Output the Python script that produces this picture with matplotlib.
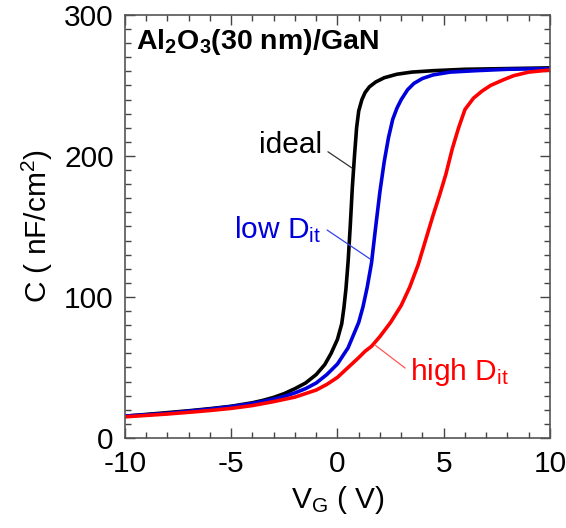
import numpy as np
import matplotlib
matplotlib.use('Agg')
import matplotlib.pyplot as plt
from matplotlib.ticker import MultipleLocator

plt.rcParams['font.family'] = 'Liberation Sans'
plt.rcParams['mathtext.fontset'] = 'custom'
plt.rcParams['mathtext.rm'] = 'Liberation Sans'
plt.rcParams['mathtext.it'] = 'Liberation Sans:italic'
plt.rcParams['mathtext.bf'] = 'Liberation Sans:bold'
plt.rcParams['axes.unicode_minus'] = False

# C-V curves (V, nF/cm2)
v_ideal = [-10, -9, -8, -7, -6, -5, -4, -3.5, -3, -2.5, -2, -1.5, -1, -0.6,
           -0.3, 0, 0.2, 0.3, 0.4, 0.5, 0.6, 0.7, 0.8, 0.9, 1.0, 1.15, 1.3,
           1.5, 1.8, 2.2, 2.8, 3.5, 4.5, 6, 8, 10]
c_ideal = [15.5, 16.7, 18, 19.3, 20.8, 22.5, 25, 26.7, 28.8, 31.5, 35, 39,
           45, 52, 60, 70, 81, 92, 106, 125, 150, 178, 200, 220, 232, 240,
           245, 249, 252.5, 255.5, 258, 259.5, 260.5, 261.5, 262, 262.5]

v_low = [-10, -9, -8, -7, -6, -5, -4, -3, -2.5, -2, -1.5, -1, -0.5, 0, 0.5,
         1.0, 1.2, 1.4, 1.6, 1.8, 2.0, 2.2, 2.4, 2.6, 2.8, 3.0, 3.3, 3.6,
         4.0, 4.5, 5.3, 6.5, 8, 10]
c_low = [15.5, 16.5, 17.5, 19, 20.5, 22.3, 24.5, 27.5, 29.5, 32, 35, 39, 45,
         52.5, 64, 82, 93, 107, 124, 150, 175, 196, 213, 226, 234, 240, 247,
         251.5, 255, 257.5, 259.5, 260.5, 261.5, 262]

v_high = [-10, -9, -8, -7, -6, -5, -4, -3, -2, -1, -0.5, 0, 0.5, 1.0, 1.3,
          1.6, 2.0, 2.5, 3.0, 3.4, 3.8, 4.2, 4.5, 4.8, 5.1, 5.4, 5.7, 6.0,
          6.4, 6.8, 7.2, 7.8, 8.3, 9, 10]
c_high = [15, 16, 17, 18.2, 19.5, 21, 23, 25.8, 29, 34, 38, 43, 50, 57,
          61.5, 65, 72, 82, 94, 107, 123, 143, 158, 172, 187, 205, 220, 233,
          241, 246, 250, 254, 257, 259.5, 261]

fig = plt.figure(figsize=(5.66, 5.28), dpi=100)
ax = fig.add_axes([0.2208, 0.1705, 0.7509, 0.8011])

ax.plot(v_ideal, c_ideal, color='black', lw=2.6)
ax.plot(v_low, c_low, color='#0000dd', lw=2.6)
ax.plot(v_high, c_high, color='#ff0000', lw=2.6)

ax.set_xlim(-10, 10)
ax.set_ylim(0, 300)
ax.xaxis.set_major_locator(MultipleLocator(5))
ax.xaxis.set_minor_locator(MultipleLocator(1))
ax.yaxis.set_major_locator(MultipleLocator(100))
ax.yaxis.set_minor_locator(MultipleLocator(10))
ax.tick_params(which='both', direction='in', top=True, right=True,
               color='#444444', labelsize=21.5)
ax.tick_params(which='major', length=7, width=1, pad=8)
ax.tick_params(axis='x', which='major', pad=9)
ax.tick_params(which='minor', length=4, width=1)
for s in ax.spines.values():
    s.set_color('#555555')
    s.set_linewidth(1.2)

ax.set_xlabel(r'V$_\mathregular{G}$ ( V)', fontsize=21.5, labelpad=4)
ax.set_ylabel(r'C ( nF/cm$^\mathregular{2}$)', fontsize=21.5, labelpad=7)

ax.text(0.027, 0.935, r'Al$_\mathbf{2}$O$_\mathbf{3}$(30 nm)/GaN',
        transform=ax.transAxes, fontsize=20.5, fontweight='bold',
        ha='left', va='center')

# labels with leader lines
ax.text(-0.7, 208, 'ideal', fontsize=21.5, color='black',
        ha='right', va='center')
ax.annotate('', xy=(0.68, 191.5), xytext=(-0.45, 203),
            arrowprops=dict(arrowstyle='-', color='#333333', lw=0.9,
                            shrinkA=0, shrinkB=0))
ax.text(-0.78, 147.5, r'low D$_\mathregular{it}$', fontsize=21.5,
        color='#0000dd', ha='right', va='center')
ax.annotate('', xy=(1.53, 127), xytext=(-0.49, 147.5),
            arrowprops=dict(arrowstyle='-', color='#3344ee', lw=0.9,
                            shrinkA=0, shrinkB=0))
ax.text(3.41, 47, r'high D$_\mathregular{it}$', fontsize=21.5,
        color='#ff0000', ha='left', va='center')
ax.annotate('', xy=(1.76, 66), xytext=(3.18, 49.6),
            arrowprops=dict(arrowstyle='-', color='#ff5555', lw=0.9,
                            shrinkA=0, shrinkB=0))

fig.savefig('out.png', dpi=100)
